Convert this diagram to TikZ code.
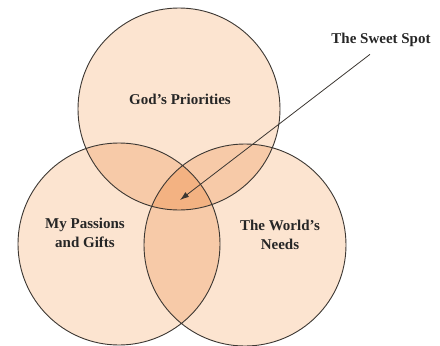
\documentclass[tikz,border=0pt]{standalone}
\usepackage{fontspec}
\setmainfont{Liberation Serif}
\definecolor{peach1}{RGB}{252, 228, 208}
\definecolor{peach2}{RGB}{247, 202, 168}
\definecolor{peach3}{RGB}{243, 178, 130}
\definecolor{ring}{RGB}{60, 55, 50}
\usetikzlibrary{arrows.meta, positioning, calc}

\begin{document}
\begin{tikzpicture}[x=1pt, y=-1pt,
    label/.style={font=\bfseries\fontsize{15}{19}\selectfont, align=center, text=black!85},
    ringline/.style={draw=ring, line width=0.9pt}]
  \useasboundingbox (0,0) rectangle (440,346);
  % circle centres
  \coordinate (god) at (179,109);
  \coordinate (me) at (119,244);
  \coordinate (world) at (245,245);
  \def\rad{101pt}
  % single fills
  \fill[peach1] (god) circle (\rad) (me) circle (\rad) (world) circle (\rad);
  % pairwise overlaps
  \begin{scope}
    \clip (god) circle (\rad);
    \fill[peach2] (me) circle (\rad) (world) circle (\rad);
  \end{scope}
  \begin{scope}
    \clip (me) circle (\rad);
    \fill[peach2] (world) circle (\rad);
  \end{scope}
  % the centre
  \begin{scope}
    \clip (god) circle (\rad);
    \clip (me) circle (\rad);
    \fill[peach3] (world) circle (\rad);
  \end{scope}
  \draw[ringline] (god) circle (\rad) (me) circle (\rad) (world) circle (\rad);

  \node[label] (godtext) at (180,99) {God's Priorities};
  \node[label] (metext) at (85,233) {My Passions\\and Gifts};
  \node[label] (worldtext) at (280,235) {The World's\\Needs};
  \node[label] (spot) at (381,40) {The Sweet Spot};
  \coordinate (spottip) at (180,200);
  \draw[-{Latex[length=9pt, width=6pt]}, line width=0.8pt, ring] ($(spot.south)+(-11,4)$) -- (spottip);
\end{tikzpicture}
\end{document}
